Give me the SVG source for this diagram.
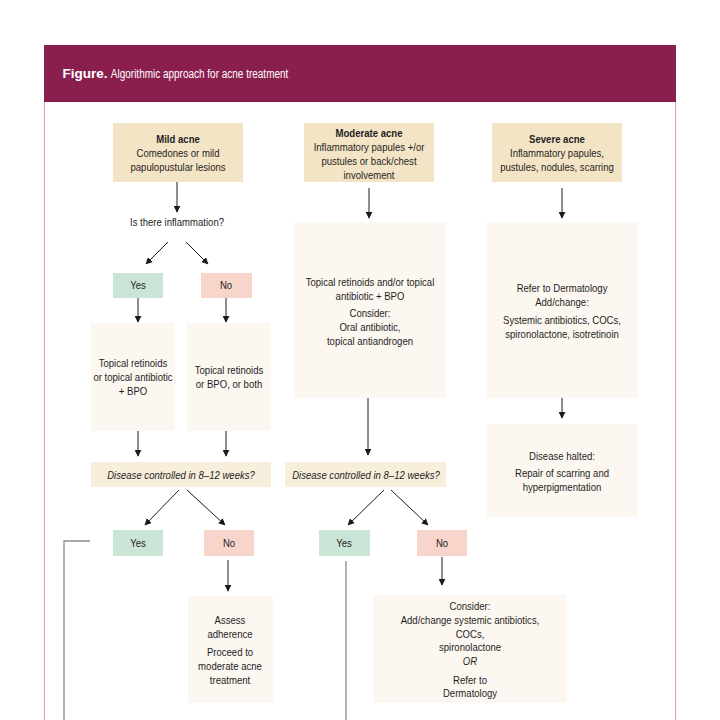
<svg xmlns="http://www.w3.org/2000/svg" width="720" height="720" viewBox="0 0 720 720">
<defs>
<marker id="ah" viewBox="0 0 10 10" refX="9" refY="5" markerWidth="7" markerHeight="7" markerUnits="userSpaceOnUse" orient="auto">
<path d="M0,0 L10,5 L0,10 z" fill="#1a1a1a"/>
</marker>
</defs>
<style>
text{font-family:"Liberation Sans Narrow","Liberation Sans",Arial,sans-serif;font-size:11px;fill:#1e1e1e;text-anchor:middle;transform-box:fill-box;transform-origin:center;transform:scaleX(0.87)}
.b{font-weight:bold}
.i{font-style:italic}
.hd{fill:#F4E4C6}
.lt{fill:#FCF7F0}
.dc{fill:#F8EEDC}
.yes{fill:#CAE4D6}
.no{fill:#F7D5CA}
.arr{stroke:#1a1a1a;stroke-width:1;fill:none;marker-end:url(#ah)}
.gl{stroke:#8c8c8c;stroke-width:1.3;fill:none}
.title{font-size:13.5px;fill:#fff;transform:scaleX(0.74)}
.fig{font-size:13.5px;font-weight:bold;fill:#fff;transform:none}
</style>
<rect width="720" height="720" fill="#fff"/>
<g id="frame">
<rect x="44" y="45" width="632" height="57" fill="#8A1F4E"/>
<line x1="44.5" y1="102" x2="44.5" y2="720" stroke="#D9A9BE" stroke-width="1.2"/>
<line x1="675.5" y1="102" x2="675.5" y2="720" stroke="#D9A9BE" stroke-width="1.2"/>
<text class="fig" x="85" y="78">Figure.</text>
<text class="title" x="199.5" y="78">Algorithmic approach for acne treatment</text>
</g>
<g id="mild">
<rect class="hd" x="113" y="123" width="130" height="59"/>
<text class="b" x="178" y="143">Mild acne</text>
<text x="178" y="157">Comedones or mild</text>
<text x="178" y="171">papulopustular lesions</text>
</g>
<g id="moderate">
<rect class="hd" x="304" y="123" width="130" height="59"/>
<text class="b" x="369" y="137">Moderate acne</text>
<text x="369" y="151">Inflammatory papules +/or</text>
<text x="369" y="165">pustules or back/chest</text>
<text x="369" y="179">involvement</text>
</g>
<g id="severe">
<rect class="hd" x="492" y="123" width="130" height="59"/>
<text class="b" x="557" y="143">Severe acne</text>
<text x="557" y="157">Inflammatory papules,</text>
<text x="557" y="171">pustules, nodules, scarring</text>
</g>
<g id="inflammation">
<text x="177" y="226">Is there inflammation?</text>
</g>
<g id="yes1">
<rect class="yes" x="113" y="273" width="50" height="25"/>
<text x="138" y="289">Yes</text>
</g>
<g id="no1">
<rect class="no" x="201" y="273" width="51" height="25"/>
<text x="226" y="289">No</text>
</g>
<g id="mildYesTx">
<rect class="lt" x="91" y="323" width="84" height="108"/>
<text x="133" y="367">Topical retinoids</text>
<text x="133" y="381">or topical antibiotic</text>
<text x="133" y="395">+ BPO</text>
</g>
<g id="mildNoTx">
<rect class="lt" x="187" y="323" width="84" height="108"/>
<text x="229" y="374">Topical retinoids</text>
<text x="229" y="388">or BPO, or both</text>
</g>
<g id="modTx">
<rect class="lt" x="294" y="222" width="152" height="176"/>
<text x="370" y="286">Topical retinoids and/or topical</text>
<text x="370" y="300">antibiotic + BPO</text>
<text x="370" y="317">Consider:</text>
<text x="370" y="331">Oral antibiotic,</text>
<text x="370" y="345">topical antiandrogen</text>
</g>
<g id="sevTx">
<rect class="lt" x="487" y="222" width="151" height="176"/>
<text x="562" y="292">Refer to Dermatology</text>
<text x="562" y="306">Add/change:</text>
<text x="562" y="324">Systemic antibiotics, COCs,</text>
<text x="562" y="338">spironolactone, isotretinoin</text>
</g>
<g id="mildCtrl">
<rect class="dc" x="91" y="462" width="180" height="25"/>
<text class="i" x="181" y="479">Disease controlled in 8–12 weeks?</text>
</g>
<g id="modCtrl">
<rect class="dc" x="285" y="462" width="161" height="25"/>
<text class="i" x="366" y="479">Disease controlled in 8–12 weeks?</text>
</g>
<g id="halted">
<rect class="lt" x="487" y="424" width="151" height="93"/>
<text x="562" y="460">Disease halted:</text>
<text x="562" y="477">Repair of scarring and</text>
<text x="562" y="491">hyperpigmentation</text>
</g>
<g id="yes2">
<rect class="yes" x="113" y="530" width="50" height="26"/>
<text x="138" y="547">Yes</text>
</g>
<g id="no2">
<rect class="no" x="204" y="530" width="50" height="26"/>
<text x="229" y="547">No</text>
</g>
<g id="yes3">
<rect class="yes" x="319" y="530" width="51" height="26"/>
<text x="344" y="547">Yes</text>
</g>
<g id="no3">
<rect class="no" x="417" y="530" width="50" height="26"/>
<text x="442" y="547">No</text>
</g>
<g id="assess">
<rect class="lt" x="188" y="596" width="85" height="107"/>
<text x="230" y="624">Assess</text>
<text x="230" y="638">adherence</text>
<text x="230" y="656">Proceed to</text>
<text x="230" y="670">moderate acne</text>
<text x="230" y="684">treatment</text>
</g>
<g id="consider">
<rect class="lt" x="373" y="595" width="194" height="108"/>
<text x="470" y="610">Consider:</text>
<text x="470" y="624">Add/change systemic antibiotics,</text>
<text x="470" y="638">COCs,</text>
<text x="470" y="651">spironolactone</text>
<text class="i" x="470" y="665">OR</text>
<text x="470" y="684">Refer to</text>
<text x="470" y="697">Dermatology</text>
</g>
<g id="connectors">
<line class="arr" x1="177" y1="182" x2="177" y2="212"/>
<line class="arr" x1="369" y1="188" x2="369" y2="218"/>
<line class="arr" x1="562" y1="188" x2="562" y2="218"/>
<line class="arr" x1="168" y1="242" x2="146" y2="264"/>
<line class="arr" x1="186" y1="242" x2="208" y2="264"/>
<line class="arr" x1="138" y1="298" x2="138" y2="322"/>
<line class="arr" x1="226" y1="298" x2="226" y2="322"/>
<line class="arr" x1="138" y1="431" x2="138" y2="456"/>
<line class="arr" x1="226" y1="431" x2="226" y2="456"/>
<line class="arr" x1="368" y1="398" x2="368" y2="455"/>
<line class="arr" x1="562" y1="398" x2="562" y2="418"/>
<line class="arr" x1="179" y1="490" x2="145" y2="525"/>
<line class="arr" x1="187" y1="490" x2="225" y2="525"/>
<line class="arr" x1="384" y1="490" x2="348" y2="525"/>
<line class="arr" x1="391" y1="490" x2="428" y2="525"/>
<line class="arr" x1="228" y1="560" x2="228" y2="591"/>
<line class="arr" x1="442" y1="557" x2="442" y2="585"/>
<polyline class="gl" points="90,541 64,541 64,720"/>
<line class="gl" x1="346" y1="561" x2="346" y2="720"/>
</g>
</svg>
